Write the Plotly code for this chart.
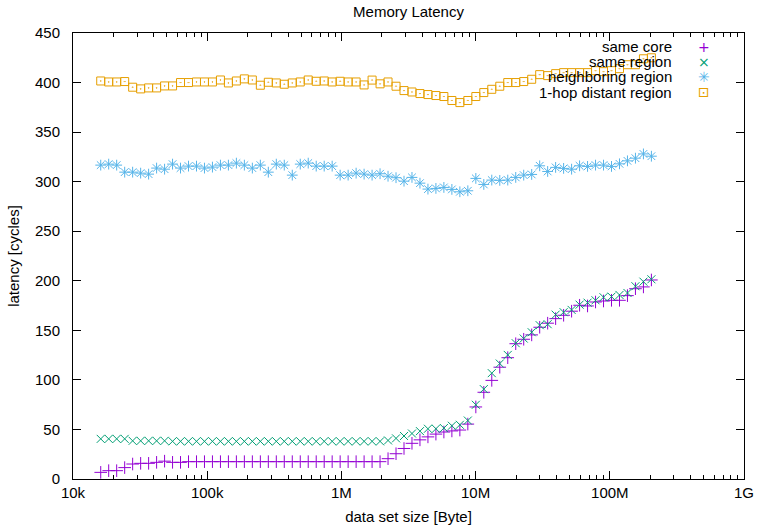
import plotly.graph_objects as go

# data set sizes in bytes
sizes = [
    16090, 18450, 21160, 24270, 27830, 31920, 36600, 41970, 48130, 55180,
    63280, 72570, 83210, 95440, 109400, 125500, 143900, 165000, 189200, 217000,
    248900, 285400, 327300, 375300, 430400, 493600, 565900, 649100, 744300, 853600,
    978800, 1122600, 1287200, 1476100, 1692800, 1941300, 2225900, 2552700, 2927400, 3356500,
    3849200, 4414200, 5061200, 5804100, 6656100, 7633200, 8752000, 10040000, 11510000, 13200000,
    15140000, 17360000, 19910000, 22830000, 26180000, 30030000, 34430000, 39480000, 45280000, 51920000,
    59540000, 68280000, 78290000, 89780000, 102970000, 118080000, 135400000, 155280000, 178070000, 204170000,
]

same_core = [
    6.7, 8.4, 8.4, 11.5, 15.1, 15.8, 15.8, 16.8, 18.0, 16.8,
    16.8, 17.5, 17.5, 17.5, 17.5, 17.5, 17.5, 17.5, 17.5, 17.5,
    17.5, 17.5, 17.5, 17.5, 17.5, 17.5, 17.5, 17.5, 17.5, 17.5,
    17.5, 17.5, 17.5, 17.5, 17.5, 17.5, 20.5, 25.5, 30.8, 36.0,
    39.5, 42.5, 45.3, 47.4, 48.5, 49.4, 55.4, 72.7, 87.5, 99.5,
    112.8, 122.4, 136.5, 141.0, 145.4, 153.1, 157.2, 161.8, 165.2, 169.3,
    175.3, 174.6, 178.6, 179.6, 180.3, 180.3, 185.0, 192.0, 193.8, 200.8,
]

same_region = [
    40.5, 40.5, 40.5, 40.5, 38.5, 38.5, 38.5, 38.5, 38.5, 38.0,
    38.0, 38.0, 38.0, 38.0, 38.0, 38.0, 38.0, 38.0, 38.0, 38.0,
    38.0, 38.0, 38.0, 38.0, 38.0, 38.0, 38.0, 38.0, 38.0, 38.0,
    38.0, 38.0, 38.0, 38.0, 38.0, 38.0, 38.9, 41.0, 43.4, 45.9,
    48.3, 50.7, 50.7, 51.4, 53.7, 54.7, 59.0, 74.9, 90.7, 106.8,
    116.5, 125.2, 137.0, 141.7, 148.1, 155.2, 156.2, 165.8, 168.3, 170.6,
    175.9, 177.9, 180.3, 183.4, 184.0, 185.7, 187.7, 194.5, 199.1, 201.5,
]

neighboring_region = [
    316.7, 317.7, 316.7, 309.6, 309.6, 308.6, 307.6, 313.7, 312.6, 317.7,
    313.7, 315.7, 315.7, 313.7, 314.7, 316.7, 316.7, 318.7, 316.7, 313.7,
    316.7, 309.6, 317.7, 316.7, 306.6, 317.7, 318.7, 315.7, 315.7, 315.7,
    306.6, 306.6, 308.6, 307.6, 306.6, 308.0, 305.5, 304.0, 300.5, 304.3,
    298.5, 292.5, 293.2, 294.2, 292.2, 289.8, 290.8, 303.3, 297.2, 301.6,
    301.3, 301.6, 304.3, 306.6, 307.3, 316.0, 310.3, 314.4, 313.4, 312.6,
    316.0, 315.4, 316.7, 316.7, 315.4, 318.0, 321.0, 323.7, 328.0, 325.7,
]

distant_region = [
    401.6, 400.6, 400.6, 401.0, 395.3, 393.6, 394.6, 394.6, 396.6, 396.6,
    400.0, 400.0, 400.6, 400.6, 400.6, 402.6, 399.6, 401.6, 403.7, 402.6,
    397.3, 400.3, 399.6, 398.3, 399.6, 400.6, 402.6, 401.3, 401.6, 400.6,
    401.3, 400.6, 400.6, 397.6, 402.5, 398.7, 400.6, 396.3, 391.9, 390.5,
    388.9, 387.9, 386.9, 385.9, 381.9, 379.8, 381.9, 385.9, 389.9, 393.2,
    396.3, 400.0, 400.0, 401.0, 403.3, 408.0, 407.0, 409.0, 410.0, 410.0,
    410.0, 410.0, 412.0, 411.0, 412.0, 414.0, 418.0, 418.0, 424.0, 425.0,
]

x_tick_vals = [1e4, 1e5, 1e6, 1e7, 1e8, 1e9]
x_tick_text = ["10k", "100k", "1M", "10M", "100M", "1G"]

series_names = ["same core", "same region", "neighboring region", "1-hop distant region"]
series_values = [same_core, same_region, neighboring_region, distant_region]
series_colors = ["#9400d3", "#009e73", "#56b4e9", "#e69f00"]
series_symbols = ["cross-thin-open", "x-thin-open", "asterisk-open", "square-open-dot"]
series_sizes = [9, 8, 9, 8]
legend_glyphs = ["+", "×", "✳", "⊡"]

FONT = "Liberation Sans, Arial, sans-serif"
FS = 15

fig = go.Figure()
for name, vals, col, sym, sz in zip(series_names, series_values, series_colors,
                                     series_symbols, series_sizes):
    fig.add_trace(go.Scatter(
        x=sizes, y=vals, mode="markers", name=name, showlegend=False,
        marker=dict(symbol=sym, size=sz, color=col, line=dict(color=col, width=1)),
    ))

# gnuplot-style legend: right-aligned text, key symbol to the right
L, R, T, B = 73, 744, 33, 479
legend_text_x = (674 - L) / (R - L)
legend_key_x = (704 - L) / (R - L)
legend_rows_px = [46.7, 62.0, 77.0, 92.0]
annotations = []
for name, col, glyph, ypx in zip(series_names, series_colors, legend_glyphs, legend_rows_px):
    yp = (B - ypx) / (B - T)
    annotations.append(dict(text=name, x=legend_text_x, y=yp, xref="paper", yref="paper",
                            xanchor="right", yanchor="middle", showarrow=False,
                            font=dict(family=FONT, size=FS, color="black")))
    annotations.append(dict(text=glyph, x=legend_key_x, y=yp, xref="paper", yref="paper",
                            xanchor="center", yanchor="middle", showarrow=False,
                            font=dict(family="DejaVu Sans", size=14, color=col)))

minor_vals = [m * 10 ** e for e in range(4, 9) for m in range(2, 10)]

fig.update_layout(
    width=758, height=530,
    margin=dict(l=L, r=758 - R, t=T, b=530 - B),
    paper_bgcolor="white", plot_bgcolor="white",
    font=dict(family=FONT, size=FS, color="black"),
    title=dict(text="Memory Latency", x=0.5, xref="paper", y=1 - 12 / 530, yref="container",
               xanchor="center", yanchor="middle", font=dict(family=FONT, size=FS)),
    annotations=annotations,
    xaxis=dict(
        type="log", range=[4, 9], tickmode="array", tickvals=x_tick_vals, ticktext=x_tick_text,
        ticks="inside", ticklen=8, tickwidth=1, tickcolor="black",
        showline=True, linecolor="black", linewidth=1, mirror="allticks",
        showgrid=False, zeroline=False, ticklabelstandoff=0, automargin=False,
        tickfont=dict(family=FONT, size=FS),
        minor=dict(tickmode="array", tickvals=minor_vals, ticks="inside", ticklen=4,
                   tickwidth=1, tickcolor="black", showgrid=False),
        title=dict(text="data set size [Byte]", standoff=11, font=dict(family=FONT, size=FS)),
    ),
    yaxis=dict(
        range=[0, 450], tickmode="linear", tick0=0, dtick=50,
        ticks="inside", ticklen=8, tickwidth=1, tickcolor="black",
        showline=True, linecolor="black", linewidth=1, mirror="allticks",
        showgrid=False, zeroline=False, ticklabelstandoff=9, automargin=False,
        tickfont=dict(family=FONT, size=FS),
        title=dict(text="latency [cycles]", standoff=11, font=dict(family=FONT, size=FS)),
    ),
)

fig.write_html("out.html")
